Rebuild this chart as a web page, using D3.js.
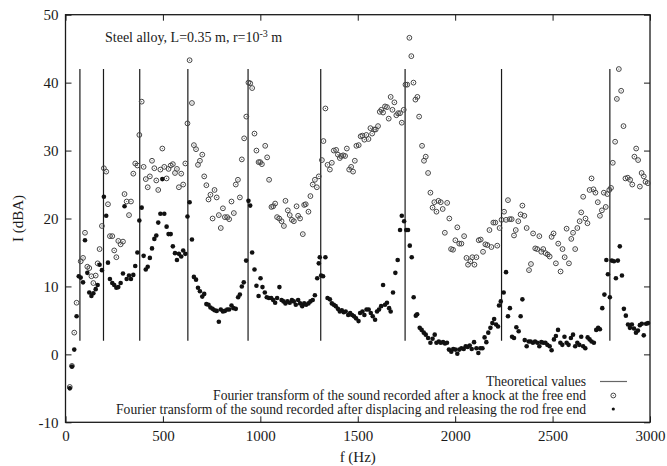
<!DOCTYPE html>
<html>
<head>
<meta charset="utf-8">
<script src="https://cdn.jsdelivr.net/npm/d3@7"></script>
<style>
  html, body { margin: 0; padding: 0; background: #fff; }
  svg { display: block; }
  text { font-family: "Liberation Serif", "DejaVu Serif", serif; fill: #1a1a1a; }
</style>
</head>
<body>
<svg id="chart" width="667" height="466"></svg>
<script>
// ---------------- data ----------------
const xTicks = [0, 500, 1000, 1500, 2000, 2500, 3000];
const yTicks = [-10, 0, 10, 20, 30, 40, 50];
const titleText = "Steel alloy, L=0.35 m, r=10";
const titleSup = "-3";
const titleEnd = " m";
const xLabel = "f (Hz)";
const yLabel = "I (dBA)";
const legendLabels = [
  "Theoretical values",
  "Fourier transform of the sound recorded after a knock at the free end",
  "Fourier transform of the sound recorded after displacing and releasing the rod free end"
];

// theoretical resonance frequencies (Hz), drawn from 2 to 42 dBA
const theoretical = [74, 195, 381, 628, 937, 1310, 1743, 2238, 2794];
const theoryRange = [2, 42];

// knock at the free end (open circles): [f (Hz), I (dBA)]
const knock = [
[22,-4.8],[33,-1.7],[45,3.2],[57,7.6],[78,13.7],[90,14.2],[100,17.9],[112,12.9],[122,12.7],[133,11.5],
[143,10.5],[155,11.6],[165,13.4],[175,15.5],[187,18.9],[197,27.4],[209,26.9],[218,22.1],[228,17.4],[240,17.4],
[250,15.3],[261,14.3],[271,16.7],[283,16.2],[295,16.6],[303,23.6],[314,22.5],[326,20.5],[336,22.5],[348,26.6],
[358,28.1],[369,27.8],[379,32.3],[391,37.2],[401,27.6],[412,25.8],[422,24.6],[433,26.2],[444,28.5],[456,27.4],
[466,25.6],[476,24.2],[487,27.2],[497,30.3],[507,27.6],[519,25.9],[529,27.3],[540,27.8],[551,28.0],[562,26.7],
[572,27.3],[582,24.6],[594,26.6],[604,25.0],[615,28.1],[626,34.0],[637,43.3],[649,37.0],[659,30.8],[670,30.2],
[680,27.9],[690,28.5],[702,29.4],[712,26.2],[723,24.9],[734,22.8],[744,23.5],[755,20.0],[765,24.2],[776,23.1],
[787,20.5],[797,18.6],[808,21.5],[818,20.2],[830,20.2],
[840,19.9],[852,22.5],[864,20.8],[874,25.0],[885,25.7],[895,23.1],[905,28.7],[917,31.8],[928,35.0],[939,40.0],
[948,39.9],[958,39.2],[970,32.5],[980,30.0],[991,28.3],[999,28.3],[1008,28.0],[1025,30.7],[1035,29.0],[1045,25.7],
[1057,21.7],[1066,21.8],[1076,22.2],[1086,20.2],[1097,20.0],[1109,19.6],[1121,18.9],[1129,22.6],[1141,21.2],[1151,20.5],
[1162,19.8],[1172,19.6],[1186,21.8],[1194,20.4],[1204,20.0],[1218,17.7],[1225,22.0],[1233,22.1],[1247,21.0],[1257,23.3],
[1269,25.0],[1280,25.7],[1290,24.6],[1300,26.2],[1316,28.6],[1324,31.4],[1334,36.2],[1345,27.9],[1357,27.2],[1367,28.2],
[1377,30.0],[1389,30.1],[1398,29.4],[1408,28.9],[1415,29.2],[1425,29.3],[1435,29.2],[1444,30.3],[1456,27.2],[1466,27.6],
[1476,26.9],[1485,28.5],[1493,30.7],[1505,30.8],[1515,32.1],[1524,32.2],[1534,31.6],[1544,32.3],[1555,31.7],[1565,33.3],
[1574,32.5],[1584,33.1],[1592,33.1],[1604,33.6],[1613,35.7],[1621,36.0],[1630,35.6],[1640,36.5],[1650,36.4],[1659,34.7],
[1669,37.9],[1678,36.0],[1688,37.1],[1698,35.2],[1707,35.5],[1717,35.5],[1726,34.1],[1736,36.0],[1745,39.7],[1754,39.7],
[1765,46.6],[1775,43.9],[1786,40.0],[1796,37.5],[1806,37.9],[1815,35.0],
[1830,30.7],[1840,28.5],[1849,29.1],[1861,26.7],[1873,23.8],[1884,21.6],[1893,22.4],[1904,21.0],[1914,22.6],[1926,22.4],
[1936,21.4],[1947,17.9],[1959,22.3],[1970,20.0],[1979,15.5],[1989,15.4],[2001,16.8],[2011,18.7],[2021,16.3],[2032,16.3],
[2046,17.4],[2058,14.2],[2066,13.2],[2078,13.7],[2088,14.3],[2099,13.2],[2109,14.3],[2121,16.8],[2131,16.9],[2143,15.1],
[2155,16.2],[2165,16.1],[2176,18.3],[2186,15.8],[2196,19.4],[2206,19.4],[2216,16.0],[2228,18.6],[2238,19.8],[2251,21.0],
[2261,19.8],[2271,22.7],[2280,19.9],[2290,19.9],[2302,17.5],[2311,18.3],[2324,19.6],[2336,20.6],[2345,21.9],[2355,20.4],
[2367,18.6],[2379,12.4],[2389,13.3],[2400,17.8],[2411,15.6],[2421,15.5],[2432,17.4],[2442,15.1],[2452,15.5],[2464,14.9],
[2475,14.7],[2485,14.4],[2495,17.3],[2505,17.8],[2517,13.4],[2529,16.3],[2541,12.2],[2551,15.5],[2562,14.3],[2572,18.5],
[2584,13.4],[2596,17.0],[2605,17.9],[2616,15.5],[2627,18.6],[2639,19.6],[2647,20.9],[2657,23.2],[2669,20.0],[2679,19.3],
[2690,24.2],[2700,25.9],[2710,24.3],[2720,23.8],[2732,22.4],[2743,20.4],[2753,21.2],[2763,23.8],[2773,21.7],[2781,23.6],
[2791,24.2],[2800,24.5],[2809,28.2],[2821,31.3],[2830,37.6],[2840,42.0],[2852,38.8],[2864,33.6],[2874,25.9],[2886,26.0],
[2898,25.7],[2909,25.0],[2920,29.1],[2929,30.3],[2939,28.6],[2948,24.7],[2957,26.7],[2968,26.2],[2977,25.4],[2989,25.2]
];

// displacing and releasing the rod free end (filled dots): [f (Hz), I (dBA)]
const release = [
[22,-5.0],[33,-1.8],[45,0.7],[57,5.6],[68,11.5],[78,11.3],[90,10.6],[100,16.8],[112,12.0],[122,9.1],
[133,8.6],[143,9.0],[155,9.6],[165,10.2],[175,13.2],[187,12.4],[197,23.2],[209,20.4],[218,13.5],[228,11.1],
[240,10.5],[250,10.2],[261,9.8],[271,9.9],[283,10.5],[295,11.9],[303,21.8],[314,11.1],[326,11.6],[336,11.1],
[348,11.7],[358,13.0],[369,15.0],[379,19.7],[391,21.6],[401,14.5],[412,12.5],[422,12.9],[433,14.2],[444,15.6],
[456,17.0],[466,17.5],[476,19.4],[487,20.7],[497,25.8],[507,20.7],[519,18.8],[529,17.7],[540,17.7],[551,15.9],
[562,14.9],[572,13.9],[582,14.8],[594,14.4],[604,15.3],[615,14.8],[626,20.3],[637,22.4],[649,16.9],[659,11.4],
[670,11.0],[680,9.8],[690,9.3],[702,8.5],[712,8.9],[723,7.4],[734,7.3],[744,6.9],[755,6.7],[765,6.5],
[776,6.4],[787,4.8],[797,6.6],[808,6.3],[818,6.4],[830,6.6],
[840,6.6],[852,7.2],[862,6.8],[874,6.7],[886,8.4],[895,8.8],[905,10.0],[915,10.6],[927,13.8],[939,22.6],
[948,21.9],[958,15.0],[970,12.5],[980,10.1],[991,8.6],[1001,11.2],[1011,9.9],[1023,9.1],[1033,8.4],[1044,8.3],
[1056,8.3],[1066,8.0],[1076,7.6],[1086,8.3],[1098,9.9],[1109,8.0],[1119,7.8],[1129,7.5],[1139,7.8],[1151,7.6],
[1162,8.0],[1172,7.8],[1182,7.3],[1194,8.0],[1204,7.5],[1215,7.1],[1225,7.5],[1235,7.3],[1247,7.5],[1257,7.8],
[1269,8.0],[1280,8.7],[1292,11.2],[1300,13.4],[1305,14.3],[1312,11.6],[1322,11.5],[1334,14.3],[1345,8.3],[1357,8.1],
[1367,7.5],[1377,7.3],[1387,7.1],[1398,6.7],[1408,6.3],[1418,6.5],[1428,6.2],[1438,6.3],[1451,5.8],[1461,6.1],
[1471,5.8],[1481,5.6],[1491,5.3],[1504,4.9],[1512,6.1],[1524,6.3],[1534,5.8],[1545,6.6],[1556,6.6],[1567,6.1],
[1577,5.6],[1589,5.1],[1599,6.3],[1609,6.6],[1620,7.1],[1630,10.2],[1640,7.3],[1650,7.6],[1661,6.8],[1669,6.3],
[1681,9.1],[1693,12.0],[1705,13.9],[1717,18.3],[1726,20.4],[1738,19.6],[1749,18.3],[1758,18.3],[1767,16.0],[1777,14.3],
[1787,8.4],[1798,5.7],[1805,5.9],[1818,3.9],[1828,3.6],[1839,3.2],[1849,2.9],[1861,2.4],[1873,1.7],[1884,2.3],
[1895,2.9],[1904,1.7],[1916,1.9],[1926,1.7],[1938,1.8],[1948,1.6],[1958,1.7],[1968,0.7],[1980,0.4],[1990,0.8],
[2001,0.7],[2011,0.1],[2021,0.7],[2032,0.9],[2044,0.8],[2054,1.2],[2064,1.1],[2075,1.3],[2085,0.8],[2097,1.8],
[2109,0.9],[2119,0.2],[2129,0.9],[2140,0.9],[2151,2.5],[2160,1.8],[2170,3.2],[2181,3.9],[2191,4.6],[2200,5.2],
[2210,4.4],[2220,4.1],[2225,7.2],[2234,7.8],[2249,9.1],[2261,12.1],[2271,5.6],[2281,6.8],[2292,2.6],[2302,2.4],
[2314,4.0],[2326,3.4],[2336,5.6],[2345,8.1],[2357,2.1],[2367,1.2],[2377,1.9],[2387,1.9],[2399,1.7],[2410,1.9],
[2422,1.7],[2432,1.2],[2442,1.8],[2452,1.7],[2463,1.7],[2473,1.4],[2485,1.2],[2495,0.6],[2507,2.2],[2517,2.7],
[2528,3.6],[2540,1.7],[2550,1.4],[2561,2.6],[2572,1.7],[2582,1.4],[2594,2.4],[2605,2.9],[2616,1.2],[2627,1.7],
[2637,1.4],[2647,2.6],[2657,1.2],[2668,0.9],[2680,2.5],[2690,2.2],[2700,1.9],[2712,1.7],[2724,3.6],[2734,3.9],
[2743,3.7],[2755,6.8],[2766,8.8],[2776,13.9],[2784,11.8],[2794,8.4],[2804,13.8],[2815,13.7],[2825,11.2],[2835,13.8],
[2845,15.9],[2856,11.6],[2866,6.7],[2876,5.7],[2887,4.4],[2897,3.9],[2907,4.4],[2918,3.8],[2928,3.2],[2938,3.5],
[2948,4.3],[2958,4.5],[2968,2.8],[2980,4.5],[2990,4.6]
];

// ---------------- layout ----------------
const svg = d3.select("#chart");
const plot = { left: 65.5, right: 650, top: 14.7, bottom: 422.3 };
const x = d3.scaleLinear().domain([0, 3000]).range([plot.left, plot.right]);
const y = d3.scaleLinear().domain([-10, 50]).range([plot.bottom, plot.top]);
const ink = "#1a1a1a";
const tickFont = "15px";
const plain = d => String(d);   // hyphen-minus, as in the reference

// axes (gnuplot style: inward ticks on all four sides)
const gB = svg.append("g").attr("transform", `translate(0,${plot.bottom})`)
  .call(d3.axisBottom(x).tickValues(xTicks).tickSizeInner(-6).tickSizeOuter(0).tickPadding(8).tickFormat(plain));
const gT = svg.append("g").attr("transform", `translate(0,${plot.top})`)
  .call(d3.axisTop(x).tickValues(xTicks).tickSizeInner(-6).tickSizeOuter(0).tickFormat(""));
const gL = svg.append("g").attr("transform", `translate(${plot.left},0)`)
  .call(d3.axisLeft(y).tickValues(yTicks).tickSizeInner(-6).tickSizeOuter(0).tickPadding(7).tickFormat(plain));
const gR = svg.append("g").attr("transform", `translate(${plot.right},0)`)
  .call(d3.axisRight(y).tickValues(yTicks).tickSizeInner(-6).tickSizeOuter(0).tickFormat(""));
[gB, gT, gL, gR].forEach(g => {
  g.select(".domain").remove();
  g.selectAll(".tick line").attr("stroke", ink).attr("stroke-width", 1);
  g.selectAll(".tick text").attr("fill", ink).style("font-size", tickFont)
    .style("font-family", '"Liberation Serif", serif');
});

// frame
svg.append("rect")
  .attr("x", plot.left).attr("y", plot.top)
  .attr("width", plot.right - plot.left).attr("height", plot.bottom - plot.top)
  .attr("fill", "none").attr("stroke", ink).attr("stroke-width", 1.3);

// theoretical lines
svg.append("g").selectAll("line").data(theoretical).join("line")
  .attr("x1", d => x(d)).attr("x2", d => x(d))
  .attr("y1", y(theoryRange[0])).attr("y2", y(theoryRange[1]))
  .attr("stroke", ink).attr("stroke-width", 1.2);

// knock series: open circles with centre dot
function ring(g, cx, cy) {
  g.append("circle").attr("cx", cx).attr("cy", cy).attr("r", 2.4)
    .attr("fill", "none").attr("stroke", "#444").attr("stroke-width", 1);
  g.append("circle").attr("cx", cx).attr("cy", cy).attr("r", 0.6).attr("fill", "#555");
}
const gK = svg.append("g");
knock.forEach(d => ring(gK, x(d[0]), y(d[1])));

// release series: filled dots
svg.append("g").selectAll("circle").data(release).join("circle")
  .attr("cx", d => x(d[0])).attr("cy", d => y(d[1])).attr("r", 2.3)
  .attr("fill", "#111");

// title
const t = svg.append("text").attr("x", 105).attr("y", 41.5).style("font-size", "14px");
t.append("tspan").text(titleText);
t.append("tspan").attr("dy", -5).style("font-size", "10px").text(titleSup);
t.append("tspan").attr("dy", 5).text(titleEnd);

// axis titles
svg.append("text").attr("x", x(1500)).attr("y", 462).attr("text-anchor", "middle")
  .style("font-size", "15px").text(xLabel);
svg.append("text").attr("transform", `translate(23,${(plot.top + plot.bottom) / 2}) rotate(-90)`)
  .attr("text-anchor", "middle").style("font-size", "15px").text(yLabel);

// legend
const legX = 586, legSym = 613.3;
const legY = [386, 400, 413.5];
legendLabels.forEach((s, i) => {
  svg.append("text").attr("x", legX).attr("y", legY[i]).attr("text-anchor", "end")
    .style("font-size", "13.6px").text(s);
});
svg.append("line").attr("x1", 600).attr("x2", 627).attr("y1", 381.5).attr("y2", 381.5)
  .attr("stroke", "#666").attr("stroke-width", 1.2);
ring(svg, legSym, 395.5);
svg.append("circle").attr("cx", legSym).attr("cy", 409).attr("r", 1.6).attr("fill", "#111");
</script>
</body>
</html>
